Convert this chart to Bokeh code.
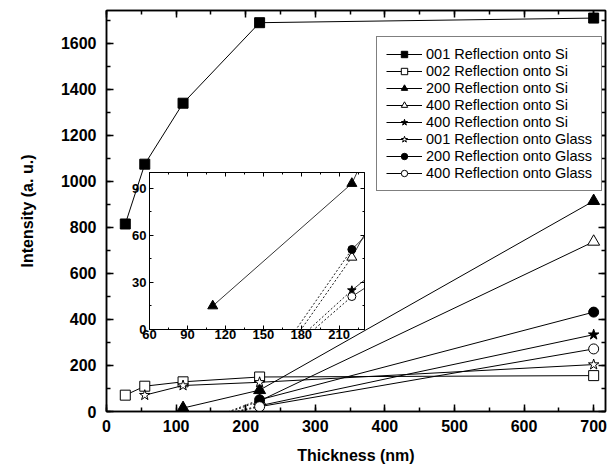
import numpy as np
from bokeh.plotting import figure
from bokeh.models import (Range1d, SingleIntervalTicker, LinearAxis, Legend,
                          LegendItem, GridBox, CustomJSTickFormatter)
from bokeh.embed import file_html
from bokeh.resources import INLINE

FONT = "Liberation Sans"

# ---------------- data ----------------
labels = ["001 Reflection onto Si", "002 Reflection onto Si", "200 Reflection onto Si",
          "400 Reflection onto Si", "400 Reflection onto Si", "001 Reflection onto Glass",
          "200 Reflection onto Glass", "400 Reflection onto Glass"]

thick_001_si = [27, 55, 110, 220, 700]
int_001_si = [815, 1075, 1340, 1690, 1710]
thick_002_si = [27, 55, 110, 220, 700]
int_002_si = [71, 110, 129, 150, 156]
thick_200_si = [110, 220, 700]
int_200_si = [15, 93, 915]
thick_400_si_tri = [110, 220, 700]
int_400_si_tri = [-80, 46, 738]
thick_400_si_star = [110, 220, 700]
int_400_si_star = [-56, 25, 334]
thick_001_gl = [55, 110, 220, 700]
int_001_gl = [71, 113, 127, 204]
thick_200_gl = [110, 220, 700]
int_200_gl = [-76, 51, 432]
thick_400_gl = [110, 220, 700]
int_400_gl = [-56, 21, 272]

xs = [thick_001_si, thick_002_si, thick_200_si, thick_400_si_tri, thick_400_si_star,
      thick_001_gl, thick_200_gl, thick_400_gl]
ys = [int_001_si, int_002_si, int_200_si, int_400_si_tri, int_400_si_star,
      int_001_gl, int_200_gl, int_400_gl]
markers = ["square", "square", "triangle", "triangle", "star", "star", "circle", "circle"]
filled = [True, False, True, False, True, False, True, False]
msize = [10, 10, 12, 12, 11, 11, 10, 10]
inset_series = [2, 3, 4, 6, 7]

main_x_ticks = (100, 2)
main_y_ticks = (200, 2)
inset_ticks = (30, 2)

blank = CustomJSTickFormatter(code="return ''")


def style_axis(ax, labels_on, size="16px", standoff=8, tick_in=7, minor_in=4, lw=1.5):
    ax.axis_line_color = "black"
    ax.axis_line_width = lw
    ax.major_tick_in = tick_in
    ax.major_tick_out = 0
    ax.minor_tick_in = minor_in
    ax.minor_tick_out = 0
    ax.major_tick_line_width = lw
    ax.minor_tick_line_width = lw
    ax.major_tick_line_color = "black"
    ax.minor_tick_line_color = "black"
    if labels_on:
        ax.major_label_text_font = FONT
        ax.major_label_text_font_style = "bold"
        ax.major_label_text_font_size = size
        ax.major_label_text_color = "black"
        ax.major_label_standoff = standoff
    else:
        ax.formatter = blank
        ax.major_label_standoff = 0


def draw_series(fig, x, y, marker, fill, size, lw_solid=1.0):
    solid_r = None
    for i in range(len(x) - 1):
        dotted = y[i] < 0
        r = fig.line([x[i], x[i + 1]], [y[i], y[i + 1]], line_color="black",
                     line_width=0.9 if dotted else lw_solid,
                     line_dash="2 2" if dotted else "solid")
        if not dotted and solid_r is None:
            solid_r = r
    s = fig.scatter(x, y, marker=marker, size=size, line_color="black",
                    fill_color="black" if fill else "white", line_width=1)
    return solid_r, s


# ---------------- main figure ----------------
p = figure(frame_width=499, frame_height=402, output_backend="svg",
           toolbar_location=None,
           x_range=Range1d(0, 717), y_range=Range1d(0, 1743),
           min_border_left=98, min_border_right=5, min_border_top=8,
           min_border_bottom=57)
p.grid.visible = False
p.outline_line_color = "black"
p.outline_line_width = 1.5

p.xaxis.ticker = SingleIntervalTicker(interval=main_x_ticks[0], num_minor_ticks=main_x_ticks[1])
p.yaxis.ticker = SingleIntervalTicker(interval=main_y_ticks[0], num_minor_ticks=main_y_ticks[1])
style_axis(p.xaxis[0], True, standoff=8)
style_axis(p.yaxis[0], True, standoff=10)
p.xaxis.axis_label = "Thickness (nm)"
p.yaxis.axis_label = "Intensity (a. u.)"
for ax in (p.xaxis[0], p.yaxis[0]):
    ax.axis_label_text_font = FONT
    ax.axis_label_text_font_style = "bold"
    ax.axis_label_text_font_size = "16px"
    ax.axis_label_text_color = "black"
p.xaxis.axis_label_standoff = 12
p.yaxis.axis_label_standoff = 22

top_ax = LinearAxis(ticker=SingleIntervalTicker(interval=main_x_ticks[0], num_minor_ticks=main_x_ticks[1]))
right_ax = LinearAxis(ticker=SingleIntervalTicker(interval=main_y_ticks[0], num_minor_ticks=main_y_ticks[1]))
style_axis(top_ax, False)
style_axis(right_ax, False)
p.add_layout(top_ax, "above")
p.add_layout(right_ax, "right")

items = []
for lab, x, y, m, f, sz in zip(labels, xs, ys, markers, filled, msize):
    lr, sr = draw_series(p, x, y, m, f, sz)
    items.append(LegendItem(label=lab, renderers=[lr, sr]))

legend = Legend(items=items, location=(270, 220), label_text_font=FONT,
                label_text_font_size="14.5px", label_text_color="black",
                glyph_width=36, glyph_height=16, label_height=16,
                label_standoff=4, spacing=1, padding=9, margin=0,
                border_line_color="black", border_line_width=1,
                background_fill_color="white", background_fill_alpha=1)
p.add_layout(legend)

# ---------------- inset ----------------
q = figure(frame_width=215, frame_height=157, output_backend="svg",
           toolbar_location=None,
           x_range=Range1d(60, 230), y_range=Range1d(0, 100),
           min_border_left=20, min_border_right=6, min_border_top=6,
           min_border_bottom=18, border_fill_color=None,
           background_fill_color="white")
q.grid.visible = False
q.outline_line_color = "black"
q.outline_line_width = 1
q.xaxis.ticker = SingleIntervalTicker(interval=inset_ticks[0], num_minor_ticks=inset_ticks[1])
q.yaxis.ticker = SingleIntervalTicker(interval=inset_ticks[0], num_minor_ticks=inset_ticks[1])
style_axis(q.xaxis[0], True, size="13px", standoff=0, tick_in=4, minor_in=2, lw=1)
style_axis(q.yaxis[0], True, size="13px", standoff=3, tick_in=4, minor_in=2, lw=1)
q_top = LinearAxis(ticker=SingleIntervalTicker(interval=inset_ticks[0], num_minor_ticks=inset_ticks[1]))
q_right = LinearAxis(ticker=SingleIntervalTicker(interval=inset_ticks[0], num_minor_ticks=inset_ticks[1]))
style_axis(q_top, False, tick_in=4, minor_in=2, lw=1)
style_axis(q_right, False, tick_in=4, minor_in=2, lw=1)
q.add_layout(q_top, "above")
q.add_layout(q_right, "right")

for i in inset_series:
    draw_series(q, xs[i], ys[i], markers[i], filled[i], msize[i] - 2, lw_solid=0.8)

grid = GridBox(children=[(p, 1, 1, 3, 3), (q, 2, 2)],
               rows=["2px", "164px", "181px", "121px"],
               cols=["8px", "121px", "241px", "240px"])

open("out.html", "w").write(file_html(grid, INLINE))
